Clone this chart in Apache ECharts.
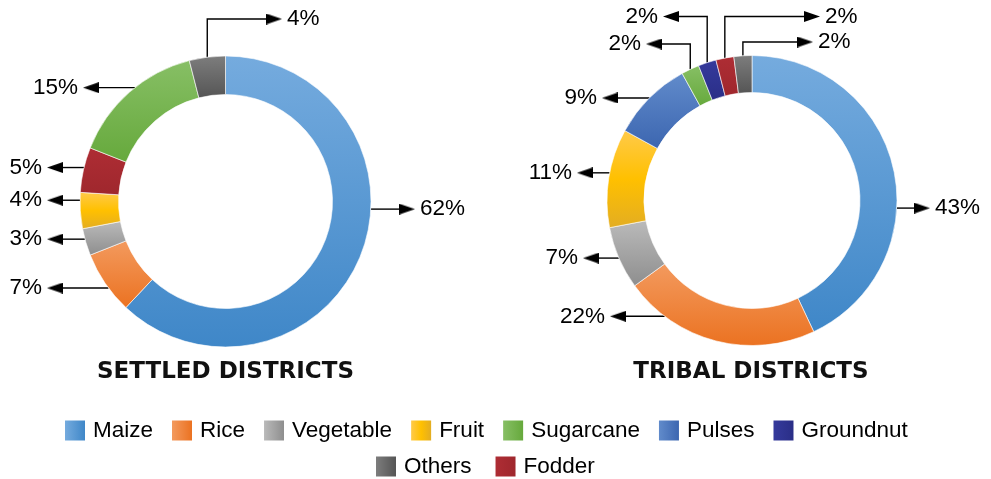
<!DOCTYPE html>
<html><head><meta charset="utf-8">
<script src="https://cdn.jsdelivr.net/npm/echarts@6/dist/echarts.min.js"></script>
<style>html,body{margin:0;padding:0;background:#fff}#c{width:991px;height:479px}</style>
</head><body><div id="c"></div>
<script>
// ---------------- data ----------------
const settledNames = ['Maize', 'Rice', 'Vegetable', 'Fruit', 'Fodder', 'Sugarcane', 'Others'];
const settledValues = [62, 7, 3, 4, 5, 15, 4];
const tribalNames = ['Maize', 'Rice', 'Vegetable', 'Fruit', 'Pulses', 'Sugarcane', 'Groundnut', 'Fodder', 'Others'];
const tribalValues = [43, 22, 7, 11, 9, 2, 2, 2, 2];
const chartTitles = ['SETTLED DISTRICTS', 'TRIBAL DISTRICTS'];
const legendRow1 = ['Maize', 'Rice', 'Vegetable', 'Fruit', 'Sugarcane', 'Pulses', 'Groundnut'];
const legendRow2 = ['Others', 'Fodder'];

// ---------------- styles / layout ----------------
const palette = {
  Maize: ['#75abde', '#3f87c8'],
  Rice: ['#f39a5e', '#eb7221'],
  Vegetable: ['#bababa', '#8e8e8e'],
  Fruit: ['#ffca4a', '#ffc000', '#e3ad22'],
  Sugarcane: ['#87bf65', '#66a93c'],
  Pulses: ['#618bcb', '#3c66b0'],
  Groundnut: ['#353a9c', '#2a2e87'],
  Fodder: ['#ae2d34', '#9f272d'],
  Others: ['#7d7d7d', '#555555']
};
function grad(name, horizontal) {
  const c = palette[name];
  const stops = c.map((col, i) => ({ offset: i / (c.length - 1), color: col }));
  return new echarts.graphic.LinearGradient(0, 0, horizontal ? 1 : 0, horizontal ? 0 : 1, stops);
}
const FONT = '"Liberation Sans", Arial, sans-serif';
const ARROW_W = 16, ARROW_H = 11;
const geomSettled = { center: [225.5, 201.5], r0: 107, r: 145.5 };
const geomTribal = { center: [752, 200.5], r0: 108, r: 145 };
// label anchor angle (deg clockwise from top), arrow tip offset from centre x, elbow y offset
const settledPlace = {
  Maize: { angle: 93, tip: 189.5 },
  Rice: { angle: 233.5, tip: -178.5 },
  Vegetable: { angle: 255, tip: -178.5 },
  Fruit: { angle: 270.5, tip: -178.5 },
  Fodder: { angle: 283.5, tip: -178.5 },
  Sugarcane: { angle: 321.5, tip: -142.5 },
  Others: { elbow: -182.5, tip: 56.5 }
};
const tribalPlace = {
  Maize: { angle: 93, tip: 178 },
  Rice: { angle: 217, tip: -142 },
  Vegetable: { tip: -169 },
  Fruit: { angle: 281, tip: -175 },
  Pulses: { tip: -150 },
  Sugarcane: { elbow: -156.5, tip: -106 },
  Groundnut: { elbow: -184, tip: -89 },
  Fodder: { elbow: -184, tip: 68 },
  Others: { elbow: -158.5, tip: 61 }
};

function arrowCanvas(dir) {
  const c = document.createElement('canvas');
  c.width = ARROW_W; c.height = ARROW_H;
  const g = c.getContext('2d');
  g.fillStyle = '#000';
  g.beginPath();
  if (dir > 0) { g.moveTo(0, 0); g.lineTo(ARROW_W, ARROW_H / 2); g.lineTo(0, ARROW_H); }
  else { g.moveTo(ARROW_W, 0); g.lineTo(0, ARROW_H / 2); g.lineTo(ARROW_W, ARROW_H); }
  g.closePath(); g.fill();
  return c;
}
const richStyles = {
  ar: { width: ARROW_W, height: ARROW_H, backgroundColor: { image: arrowCanvas(1) } },
  al: { width: ARROW_W, height: ARROW_H, backgroundColor: { image: arrowCanvas(-1) } },
  tr: { fontSize: 22.5, fontFamily: FONT, color: '#000', padding: [0, 0, 0, 5] },
  tl: { fontSize: 22.5, fontFamily: FONT, color: '#000', padding: [0, 5, 0, 0] }
};

function labelGeom(names, values, place, geom, i) {
  const total = values.reduce((a, b) => a + b, 0);
  let acc = 0;
  for (let k = 0; k < i; k++) acc += values[k];
  const mid = (acc + values[i] / 2) / total * 360;
  const p = place[names[i]] || {};
  const ang = (p.angle != null ? p.angle : mid) * Math.PI / 180;
  const cx = geom.center[0], cy = geom.center[1];
  const sx = cx + geom.r * Math.sin(ang), sy = cy - geom.r * Math.cos(ang);
  const tipX = cx + p.tip;
  const dir = tipX > sx ? 1 : -1;
  const ly = p.elbow != null ? cy + p.elbow : sy;
  const endX = tipX - dir * (ARROW_W - 2);
  const pts = p.elbow != null ? [[sx, sy], [sx, ly], [endX, ly]] : [[sx, sy], [(sx + endX) / 2, ly], [endX, ly]];
  return { dir, ly, tipX, pts };
}

function makeSeries(names, values, place, geom) {
  return {
    type: 'pie',
    center: geom.center,
    radius: [geom.r0, geom.r],
    startAngle: 90,
    clockwise: true,
    avoidLabelOverlap: false,
    animation: false,
    emphasis: { disabled: true },
    itemStyle: { borderColor: '#ffffff', borderWidth: 0.6 },
    data: names.map((n, i) => ({ name: n, value: values[i], itemStyle: { color: grad(n, false) } })),
    label: {
      show: true,
      position: 'outside',
      formatter: (prm) => {
        const g = labelGeom(names, values, place, geom, prm.dataIndex);
        const t = values[prm.dataIndex] + '%';
        return g.dir > 0 ? '{ar|}{tr|' + t + '}' : '{tl|' + t + '}{al|}';
      },
      rich: richStyles
    },
    labelLine: { show: true, length: 10, length2: 10, lineStyle: { color: '#000', width: 1.4 } },
    labelLayout: (prm) => {
      const g = labelGeom(names, values, place, geom, prm.dataIndex);
      return {
        x: g.dir > 0 ? g.tipX - ARROW_W : g.tipX + ARROW_W,
        y: g.ly,
        align: g.dir > 0 ? 'left' : 'right',
        verticalAlign: 'middle',
        labelLinePoints: g.pts
      };
    }
  };
}

function legendCfg(names, left, top, gap) {
  return {
    data: names.map(n => ({ name: n, itemStyle: { color: grad(n, true), borderWidth: 0 } })),
    left: left, top: top, padding: 0,
    orient: 'horizontal',
    icon: 'rect', itemWidth: 20, itemHeight: 20, itemGap: gap,
    itemStyle: { borderWidth: 0 },
    selectedMode: false,
    textStyle: { fontSize: 22.5, fontFamily: FONT, color: '#000', padding: [0, 0, 0, 3] }
  };
}

const chart = echarts.init(document.getElementById('c'), null, { renderer: 'canvas' });
chart.setOption({
  animation: false,
  backgroundColor: '#fff',
  title: chartTitles.map((t, i) => ({
    text: t,
    left: i === 0 ? geomSettled.center[0] : geomTribal.center[0] - 1,
    top: 361,
    padding: 0,
    textAlign: 'center',
    textStyle: { fontFamily: '"DejaVu Sans", sans-serif', fontWeight: 'bold', fontSize: 23, color: '#111' }
  })),
  legend: [legendCfg(legendRow1, 65, 419, 19), legendCfg(legendRow2, 376, 455, 24)],
  series: [
    makeSeries(settledNames, settledValues, settledPlace, geomSettled),
    makeSeries(tribalNames, tribalValues, tribalPlace, geomTribal)
  ]
});
</script></body></html>
